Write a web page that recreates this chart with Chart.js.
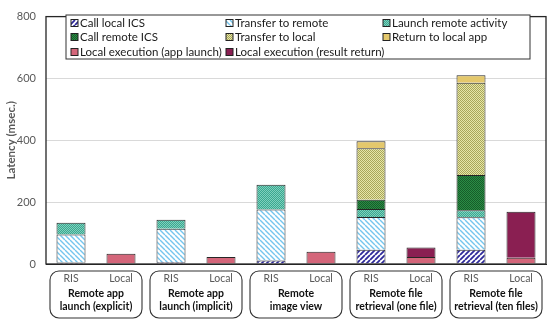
<!DOCTYPE html>
<html>
<head>
<meta charset="utf-8">
<script src="https://cdn.jsdelivr.net/npm/chart.js@4"></script>
<style>
  html, body { margin: 0; padding: 0; background: #fff; }
  #wrap { width: 550px; height: 323px; position: relative; }
</style>
</head>
<body>
<div id="wrap"><canvas id="chart"></canvas></div>
<script>
const categories = ["RIS", "Local", "RIS", "Local", "RIS", "Local", "RIS", "Local", "RIS", "Local"];
const groups = [
  ["Remote app", "launch (explicit)"],
  ["Remote app", "launch (implicit)"],
  ["Remote", "image view"],
  ["Remote file", "retrieval (one file)"],
  ["Remote file", "retrieval (ten files)"]
];
const yTicks = [0, 200, 400, 600, 800];

const callLocalICS      = [5, null, 6, null, 11, null, 46, null, 46, null];
const transferToRemote  = [90, null, 108, null, 165, null, 106, null, 105, null];
const launchRemote      = [38, null, 29, null, 80, null, 26, null, 23, null];
const callRemoteICS     = [null, null, null, null, null, null, 30, null, 114, null];
const transferToLocal   = [null, null, null, null, null, null, 166, null, 298, null];
const returnToLocal     = [null, null, null, null, null, null, 23, null, 24, null];
const localAppLaunch    = [null, 33, null, 23, null, 40, null, 23, null, 20];
const localResultReturn = [null, null, null, null, null, null, null, 30, null, 149];

const canvas = document.getElementById("chart");
const ctx = canvas.getContext("2d");

function hatch(bg, fg, size, lw, dir) {
  const c = document.createElement("canvas");
  c.width = c.height = size;
  const g = c.getContext("2d");
  g.fillStyle = bg;
  g.fillRect(0, 0, size, size);
  g.strokeStyle = fg;
  g.lineWidth = lw;
  g.beginPath();
  for (let k = -1; k <= 1; k++) {
    if (dir > 0) { g.moveTo(k * size, size); g.lineTo(k * size + size, 0); }
    else { g.moveTo(k * size, 0); g.lineTo(k * size + size, size); }
  }
  g.stroke();
  return ctx.createPattern(c, "repeat");
}

function dots(bg, fg) {
  const c = document.createElement("canvas");
  c.width = c.height = 2;
  const g = c.getContext("2d");
  g.fillStyle = bg;
  g.fillRect(0, 0, 2, 2);
  g.fillStyle = fg;
  g.fillRect(0, 0, 1, 1);
  g.fillRect(1, 1, 1, 1);
  return ctx.createPattern(c, "repeat");
}

const series = [
  { label: "Call local ICS", data: callLocalICS, fill: hatch("#ffffff", "#2f2a9a", 5, 1.8, 1) },
  { label: "Transfer to remote", data: transferToRemote, fill: hatch("#ffffff", "#74c5ee", 5, 1.4, -1) },
  { label: "Launch remote activity", data: launchRemote, fill: dots("#3aa890", "#7fd0bd") },
  { label: "Call remote ICS", data: callRemoteICS, fill: dots("#2b8c45", "#165c2a") },
  { label: "Transfer to local", data: transferToLocal, fill: dots("#e6e6a8", "#a8a65a") },
  { label: "Return to local app", data: returnToLocal, fill: "#e4c86c" },
  { label: "Local execution (app launch)", data: localAppLaunch, fill: "#d4667a" },
  { label: "Local execution (result return)", data: localResultReturn, fill: "#8a1f52" }
];

const frameAndLabels = {
  id: "frameAndLabels",
  afterDraw(chart) {
    const c = chart.ctx;
    const a = chart.chartArea;
    const x = chart.scales.x;
    c.save();
    c.strokeStyle = "#262626";
    c.lineWidth = 1.3;
    c.strokeRect(a.left, a.top, a.right - a.left, a.bottom - a.top);

    // y axis title
    c.save();
    c.translate(11, (a.top + a.bottom) / 2);
    c.rotate(-Math.PI / 2);
    c.fillStyle = "#595959";
    c.font = "bold 11.5px Lato";
    c.textAlign = "center";
    c.textBaseline = "middle";
    c.fillText("Latency (msec.)", 0, 0);
    c.restore();

    // group boxes under the axis
    groups.forEach((lines, i) => {
      const cx = (x.getPixelForValue(i * 2) + x.getPixelForValue(i * 2 + 1)) / 2;
      const w = 92, top = 271, h = 47;
      c.beginPath();
      c.roundRect(cx - w / 2, top, w, h, 9);
      c.strokeStyle = "#333";
      c.lineWidth = 1.1;
      c.stroke();
      c.fillStyle = "#111";
      c.font = "bold 10.5px Lato";
      c.textAlign = "center";
      c.textBaseline = "middle";
      c.fillText(lines[0], cx, 294);
      c.fillText(lines[1], cx, 307);
    });

    // legend box inside the plot
    const lx = 66, ly = 15, lw = 464, lh = 44;
    c.fillStyle = "#fff";
    c.fillRect(lx, ly, lw, lh);
    c.strokeStyle = "#333";
    c.lineWidth = 1;
    c.strokeRect(lx, ly, lw, lh);
    const cols = [71, 226, 383];
    const rows = [23, 37, 52];
    c.font = "11.5px Lato";
    c.textAlign = "left";
    c.textBaseline = "middle";
    series.forEach((s, i) => {
      const sx = cols[i % 3], sy = rows[Math.floor(i / 3)];
      c.fillStyle = s.fill;
      c.fillRect(sx, sy - 3.5, 7, 7);
      c.strokeStyle = "#222";
      c.strokeRect(sx, sy - 3.5, 7, 7);
      c.fillStyle = "#1a1a1a";
      c.fillText(s.label, sx + 9, sy);
    });
    c.restore();
  }
};

new Chart(ctx, {
  type: "bar",
  data: {
    labels: categories,
    datasets: series.map(s => ({
      label: s.label,
      data: s.data,
      backgroundColor: s.fill,
      borderColor: "#262626",
      borderWidth: { top: 1, left: 1, right: 1, bottom: 0 },
      borderSkipped: false,
      categoryPercentage: 1,
      barPercentage: 0.58
    }))
  },
  options: {
    responsive: true,
    maintainAspectRatio: false,
    animation: false,
    layout: { padding: { top: 0, right: 4, left: 0, bottom: 0 } },
    plugins: {
      legend: { display: false },
      tooltip: { enabled: false }
    },
    scales: {
      x: {
        stacked: true,
        grid: { display: false, drawTicks: false },
        border: { color: "#262626" },
        ticks: { color: "#595959", font: { family: "Lato", size: 10.5 }, padding: 8 },
        afterFit: s => { s.height = 59; }
      },
      y: {
        stacked: true,
        min: 0,
        max: 800,
        afterBuildTicks: s => { s.ticks = yTicks.map(v => ({ value: v })); },
        grid: { color: "#d9d9d9", lineWidth: 1, drawTicks: false },
        border: { display: false },
        ticks: { color: "#595959", font: { family: "Lato", size: 11 }, padding: 10 },
        afterFit: s => { s.width = 46; }
      }
    }
  },
  plugins: [frameAndLabels]
});
</script>
</body>
</html>
